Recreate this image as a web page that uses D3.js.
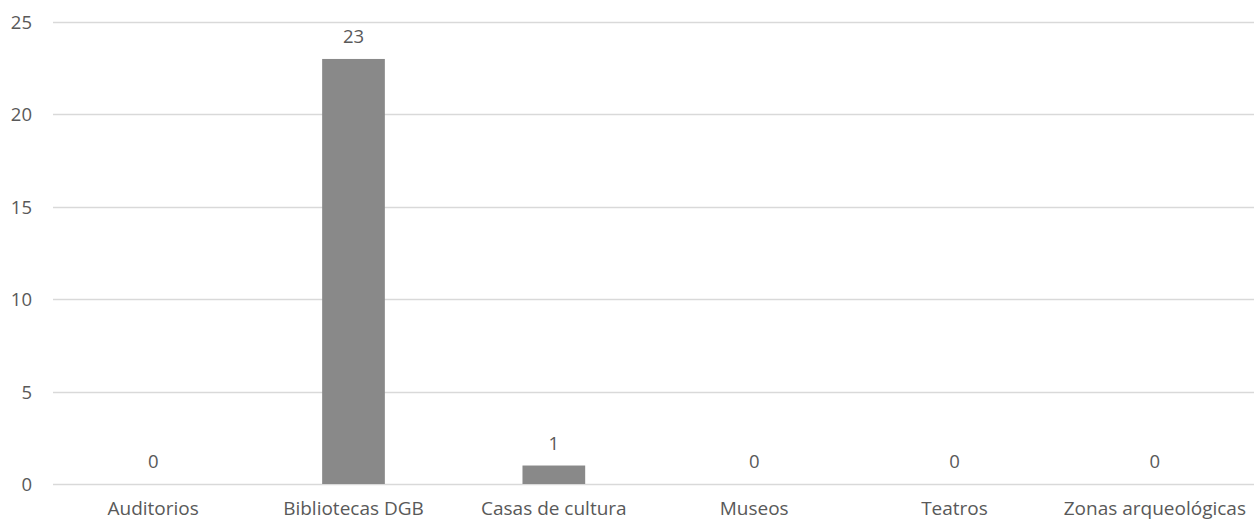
<!DOCTYPE html>
<html><head><meta charset="utf-8">
<script src="https://cdn.jsdelivr.net/npm/d3@7"></script>
<style>html,body{margin:0;padding:0;background:#fff;}svg{display:block;}</style>
</head><body>
<svg id="chart" width="1254" height="521"></svg>
<script>
const categories = ["Auditorios","Bibliotecas DGB","Casas de cultura","Museos","Teatros","Zonas arqueológicas"];
const values = [0,23,1,0,0,0];
const yTicks = [0,5,10,15,20,25];

const W = 1254, H = 521;
const m = {left:53, right:0, top:22, bottom:37};
const svg = d3.select("#chart");
const font = "'Open Sans', sans-serif";
const fs = 18.5;
const textColor = "#595959";

const x = d3.scaleBand().domain(categories).range([m.left, W - m.right + 1]).paddingInner(0).paddingOuter(0);
const y = d3.scaleLinear().domain([0,25]).range([H - m.bottom, m.top]);

// gridlines
svg.append("g").selectAll("line").data(yTicks).join("line")
  .attr("x1", m.left).attr("x2", W)
  .attr("y1", d => Math.round(y(d)) + 0.5).attr("y2", d => Math.round(y(d)) + 0.5)
  .attr("stroke", "#d9d9d9").attr("stroke-width", 1.3);

// y axis labels
const yAxis = d3.axisLeft(y).tickValues(yTicks).tickSize(0).tickPadding(0);
const gy = svg.append("g").attr("transform", `translate(${m.left - 21},0)`).call(yAxis);
gy.select(".domain").remove();
gy.selectAll("text").attr("font-family", font).attr("font-size", fs).attr("fill", textColor).attr("dy", "0.35em");

// bars
const bw = x.bandwidth() * 0.313;
svg.append("g").selectAll("rect").data(values).join("rect")
  .attr("x", (d,i) => x(categories[i]) + x.bandwidth()/2 - bw/2)
  .attr("width", bw)
  .attr("y", d => y(d))
  .attr("height", d => y(0) - y(d))
  .attr("fill", "#898989");

// value labels
svg.append("g").selectAll("text").data(values).join("text")
  .attr("x", (d,i) => x(categories[i]) + x.bandwidth()/2)
  .attr("y", d => y(d) - 22)
  .attr("dy", "0.35em")
  .attr("text-anchor", "middle")
  .attr("font-family", font).attr("font-size", fs).attr("fill", textColor)
  .text(d => d);

// x axis labels
const xAxis = d3.axisBottom(x).tickSize(0).tickPadding(0);
const gx = svg.append("g").attr("transform", `translate(0,${y(0) + 24})`).call(xAxis);
gx.select(".domain").remove();
gx.selectAll("text").attr("font-family", font).attr("font-size", 19).attr("fill", textColor).attr("dy", "0.35em");
</script>
</body></html>
